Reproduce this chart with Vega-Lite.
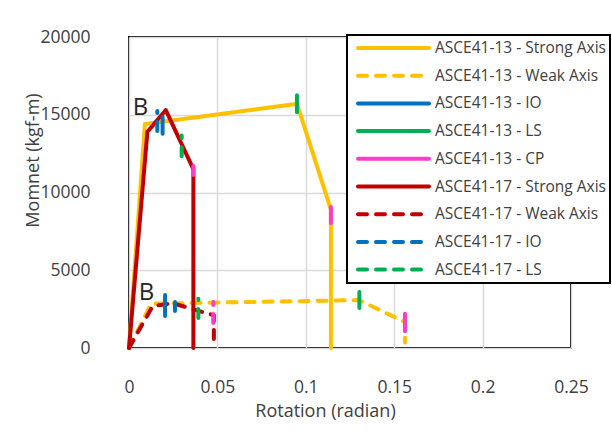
{
  "$schema": "https://vega.github.io/schema/vega-lite/v6.json",
  "width": 442,
  "height": 311,
  "autosize": {"type": "none"},
  "padding": {"left": 129, "top": 37, "right": 41, "bottom": 84},
  "background": "white",
  "config": {
    "font": "Open Sans",
    "view": {"stroke": "black", "strokeWidth": 2},
    "axis": {
      "grid": true,
      "gridColor": "#d9d9d9",
      "gridWidth": 1.5,
      "domain": false,
      "ticks": false,
      "tickSize": 0,
      "labelFont": "Open Sans",
      "labelFontSize": 17.5,
      "labelColor": "#404040",
      "titleFont": "Open Sans",
      "titleFontSize": 18,
      "titleFontWeight": "normal",
      "titleColor": "#404040"
    }
  },
  "datasets": {
    "curves": [
      {"series": "ASCE41-13 - Strong Axis", "order": 0, "x": 0, "y": 0},
      {"series": "ASCE41-13 - Strong Axis", "order": 1, "x": 0.009, "y": 14400},
      {"series": "ASCE41-13 - Strong Axis", "order": 2, "x": 0.095, "y": 15700},
      {"series": "ASCE41-13 - Strong Axis", "order": 3, "x": 0.1142, "y": 8900},
      {"series": "ASCE41-13 - Strong Axis", "order": 4, "x": 0.1142, "y": 0},
      {"series": "ASCE41-13 - Weak Axis", "order": 0, "x": 0, "y": 0},
      {"series": "ASCE41-13 - Weak Axis", "order": 1, "x": 0.0125, "y": 2850},
      {"series": "ASCE41-13 - Weak Axis", "order": 2, "x": 0.13, "y": 3080},
      {"series": "ASCE41-13 - Weak Axis", "order": 3, "x": 0.1561, "y": 1670},
      {"series": "ASCE41-13 - Weak Axis", "order": 4, "x": 0.1561, "y": 350},
      {"series": "ASCE41-17 - Strong Axis", "order": 0, "x": 0, "y": 0},
      {"series": "ASCE41-17 - Strong Axis", "order": 1, "x": 0.0104, "y": 13900},
      {"series": "ASCE41-17 - Strong Axis", "order": 2, "x": 0.0208, "y": 15300},
      {"series": "ASCE41-17 - Strong Axis", "order": 3, "x": 0.0364, "y": 11500},
      {"series": "ASCE41-17 - Strong Axis", "order": 4, "x": 0.0364, "y": 0},
      {"series": "ASCE41-17 - Weak Axis", "order": 0, "x": 0, "y": 0},
      {"series": "ASCE41-17 - Weak Axis", "order": 1, "x": 0.0134, "y": 2700},
      {"series": "ASCE41-17 - Weak Axis", "order": 2, "x": 0.025, "y": 2870},
      {"series": "ASCE41-17 - Weak Axis", "order": 3, "x": 0.048, "y": 2100},
      {"series": "ASCE41-17 - Weak Axis", "order": 4, "x": 0.048, "y": 0}
    ],
    "limits": [
      {"series": "ASCE41-13 - IO", "x": 0.019, "ylo": 13780, "yhi": 14850},
      {"series": "ASCE41-13 - IO", "x": 0.0204, "ylo": 2060, "yhi": 3410},
      {"series": "ASCE41-13 - LS", "x": 0.095, "ylo": 15160, "yhi": 16250},
      {"series": "ASCE41-13 - LS", "x": 0.1303, "ylo": 2570, "yhi": 3600},
      {"series": "ASCE41-13 - CP", "x": 0.1142, "ylo": 8040, "yhi": 9060},
      {"series": "ASCE41-13 - CP", "x": 0.1561, "ylo": 1080, "yhi": 2200},
      {"series": "ASCE41-17 - IO", "x": 0.016, "ylo": 13950, "yhi": 15240},
      {"series": "ASCE41-17 - IO", "x": 0.026, "ylo": 2380, "yhi": 3280},
      {"series": "ASCE41-17 - LS", "x": 0.0298, "ylo": 12330, "yhi": 13670},
      {"series": "ASCE41-17 - LS", "x": 0.0392, "ylo": 1930, "yhi": 3170},
      {"series": "ASCE41-17 - CP", "x": 0.0364, "ylo": 11130, "yhi": 12070},
      {"series": "ASCE41-17 - CP", "x": 0.0477, "ylo": 1610, "yhi": 2960}
    ],
    "labels": [
      {"text": "B", "x": 0.0065, "y": 15465},
      {"text": "B", "x": 0.0099, "y": 3537}
    ]
  },
  "layer": [
    {
      "data": {"name": "curves"},
      "mark": {"type": "line", "strokeWidth": 4, "strokeCap": "round", "strokeJoin": "round"},
      "encoding": {
        "x": {
          "field": "x", "type": "quantitative",
          "scale": {"domain": [0, 0.25], "nice": false, "zero": false},
          "axis": {
            "values": [0, 0.05, 0.1, 0.15, 0.2, 0.25],
            "format": "~g",
            "labelFlush": false,
            "labelPadding": 30,
            "title": "Rotation (radian)",
            "titleX": 196,
            "titleY": 54,
            "titleAnchor": null,
            "titleAlign": "center",
            "titleBaseline": "top"
          }
        },
        "y": {
          "field": "y", "type": "quantitative",
          "scale": {"domain": [0, 20000], "nice": false},
          "axis": {
            "values": [0, 5000, 10000, 15000, 20000],
            "format": "d",
            "labelPadding": 39,
            "title": "Momnet (kgf-m)",
            "titleX": -96,
            "titleY": 123,
            "titleAngle": 270,
            "titleAlign": "center",
            "titleBaseline": "middle"
          }
        },
        "order": {"field": "order", "type": "quantitative"},
        "color": {
          "field": "series", "type": "nominal",
          "scale": {
            "domain": ["ASCE41-13 - Strong Axis", "ASCE41-13 - Weak Axis", "ASCE41-13 - IO", "ASCE41-13 - LS", "ASCE41-13 - CP", "ASCE41-17 - Strong Axis", "ASCE41-17 - Weak Axis", "ASCE41-17 - IO", "ASCE41-17 - LS", "ASCE41-17 - CP"],
            "range": ["#FFC000", "#FFC000", "#0070C0", "#00B050", "#FF3CC8", "#C00000", "#C00000", "#0070C0", "#00B050", "#FF3CC8"]
          },
          "legend": {
            "title": null,
            "orient": "none",
            "legendX": 218,
            "legendY": -2,
            "values": ["ASCE41-13 - Strong Axis", "ASCE41-13 - Weak Axis", "ASCE41-13 - IO", "ASCE41-13 - LS", "ASCE41-13 - CP", "ASCE41-17 - Strong Axis", "ASCE41-17 - Weak Axis", "ASCE41-17 - IO", "ASCE41-17 - LS"],
            "symbolType": "stroke",
            "symbolSize": 5041,
            "symbolStrokeWidth": 4,
            "clipHeight": 18,
            "rowPadding": 9.7,
            "padding": 4,
            "labelFont": "Open Sans",
            "labelFontSize": 15.5,
            "labelColor": "#404040",
            "labelOffset": 4,
            "labelLimit": 300,
            "symbolOffset": 5,
            "fillColor": "white",
            "strokeColor": "black",
            "encode": {
              "legend": {"update": {"strokeWidth": {"value": 2}}},
              "symbols": {"update": {"strokeCap": {"value": "round"}}}
            }
          }
        },
        "strokeDash": {
          "field": "series", "type": "nominal",
          "scale": {
            "domain": ["ASCE41-13 - Strong Axis", "ASCE41-13 - Weak Axis", "ASCE41-13 - IO", "ASCE41-13 - LS", "ASCE41-13 - CP", "ASCE41-17 - Strong Axis", "ASCE41-17 - Weak Axis", "ASCE41-17 - IO", "ASCE41-17 - LS", "ASCE41-17 - CP"],
            "range": [[1, 0], [9, 9], [1, 0], [1, 0], [1, 0], [1, 0], [9, 9], [9, 9], [9, 9], [9, 9]]
          },
          "legend": {"title": null}
        }
      }
    },
    {
      "data": {"name": "limits"},
      "mark": {"type": "rule", "strokeWidth": 4, "strokeCap": "round"},
      "encoding": {
        "x": {"field": "x", "type": "quantitative"},
        "y": {"field": "ylo", "type": "quantitative"},
        "y2": {"field": "yhi"},
        "color": {"field": "series", "type": "nominal"},
        "strokeDash": {"field": "series", "type": "nominal"}
      }
    },
    {
      "data": {"name": "labels"},
      "mark": {"type": "text", "fontSize": 24, "font": "Open Sans", "color": "#262626", "align": "center", "baseline": "middle"},
      "encoding": {
        "x": {"field": "x", "type": "quantitative"},
        "y": {"field": "y", "type": "quantitative"},
        "text": {"field": "text"}
      }
    }
  ]
}
